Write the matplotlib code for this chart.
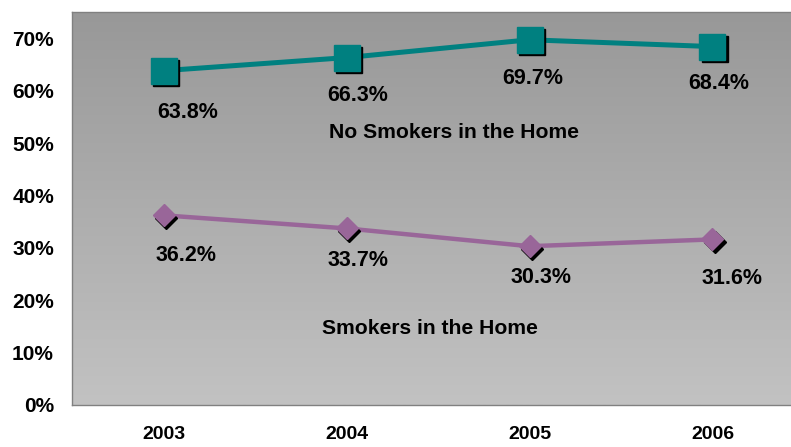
import numpy as np
import matplotlib
matplotlib.use("Agg")
import matplotlib.pyplot as plt
import matplotlib.transforms as mtransforms

years = ["2003", "2004", "2005", "2006"]
no_smokers = [63.8, 66.3, 69.7, 68.4]
smokers = [36.2, 33.7, 30.3, 31.6]
no_smokers_labels = ["63.8%", "66.3%", "69.7%", "68.4%"]
smokers_labels = ["36.2%", "33.7%", "30.3%", "31.6%"]
yticks = [0, 10, 20, 30, 40, 50, 60, 70]

plt.rcParams['font.family'] = ['Liberation Sans', 'DejaVu Sans']

fig = plt.figure(figsize=(7.91, 4.47), dpi=100)
ax = fig.add_axes([72/791, 42/447, 732/791, 393/447])
x = np.arange(len(years))
ax.set_xlim(-0.5, 3.5)
ax.set_ylim(0, 75)

# gradient background
grad = np.linspace(0, 1, 256).reshape(-1, 1)
top = np.array([152, 152, 152]) / 255
bot = np.array([194, 194, 194]) / 255
img = top[None, None, :] * (1 - grad[:, :, None]) + bot[None, None, :] * grad[:, :, None]
ax.imshow(img, extent=[-0.5, 3.5, 0, 75], aspect='auto', origin='upper', zorder=0)

teal = '#008080'
purple = '#996699'
shadow = mtransforms.offset_copy(ax.transData, fig=fig, x=1.8, y=-1.8, units='points')

ax.plot(x, no_smokers, color=teal, lw=3.6, zorder=2, solid_capstyle='butt')
ax.plot(x, smokers, color=purple, lw=3.2, zorder=2)
ax.plot(x, no_smokers, 's', ms=19, color='black', transform=shadow, zorder=3)
ax.plot(x, no_smokers, 's', ms=19, color=teal, zorder=4)
ax.plot(x, smokers, 'D', ms=11.2, color='black', transform=shadow, zorder=3)
ax.plot(x, smokers, 'D', ms=11.2, color=purple, zorder=4)

# data labels (offsets in points)
no_off = [(17.6, -29.8), (8.3, -27), (2.5, -28.2), (4.7, -26.5)]
sm_off = [(16.2, -29), (8.3, -23.3), (8.3, -22.3), (14, -27.8)]
for i in range(4):
    ax.annotate(no_smokers_labels[i], (x[i], no_smokers[i]), xytext=no_off[i],
                textcoords='offset points', ha='center', va='center',
                fontsize=15.5, fontweight='bold', zorder=5)
    ax.annotate(smokers_labels[i], (x[i], smokers[i]), xytext=sm_off[i],
                textcoords='offset points', ha='center', va='center',
                fontsize=15.5, fontweight='bold', zorder=5)

ax.text(454/791, 1 - 133/447, "No Smokers in the Home", transform=fig.transFigure,
        ha='center', va='center', fontsize=15.2, fontweight='bold')
ax.text(430/791, 1 - 328/447, "Smokers in the Home", transform=fig.transFigure,
        ha='center', va='center', fontsize=15.2, fontweight='bold')

ax.set_xticks(x)
ax.set_xticklabels(years, fontsize=14, fontweight='bold')
ax.set_yticks(yticks)
ax.set_yticklabels([f"{v}%" for v in yticks], fontsize=15, fontweight='bold')
ax.tick_params(axis='both', length=0)
ax.tick_params(axis='x', pad=15)
ax.tick_params(axis='y', pad=13)
for s in ax.spines.values():
    s.set_color('#808080')
    s.set_linewidth(1)

fig.savefig("out.png", dpi=100)
